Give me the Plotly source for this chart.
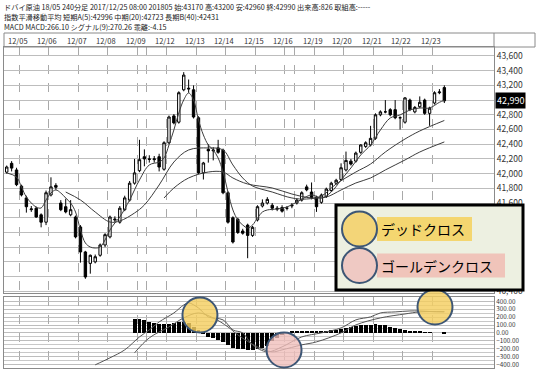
import plotly.graph_objects as go

# ---------------- data ----------------
header_lines = [
    "ドバイ原油 18/05 240分足 2017/12/25 08:00 201805 始:43170 高:43200 安:42960 終:42990 出来高:826 取組高:-----",
    "指数平滑移動平均 短期A(5):42996 中期(20):42723 長期B(40):42431",
    "MACD MACD:266.10 シグナル(9):270.26 乖離:-4.15",
]
date_labels = ["12/05", "12/06", "12/07", "12/08", "12/09", "12/12", "12/13", "12/14",
               "12/15", "12/16", "12/19", "12/20", "12/21", "12/22", "12/23"]
date_pos = [2.5 + 6 * k for k in range(len(date_labels))]
extra_lines = [28.5, 58.5]
price_ticks = list(range(40400, 43601, 200))
macd_ticks = [-400, -300, -200, -100, 0, 100, 200, 300, 400]

open_ = [42020, 42140, 42050, 41830, 41670, 41510, 41530, 41440, 41340, 41710,
         41840, 41600, 41550, 41440, 41410, 41275, 40935, 40780, 40800, 40890,
         41030, 41140, 41370, 41340, 41510, 41640, 41870, 42040, 42230, 42200,
         42190, 42230, 42060, 42420, 42785, 42700, 43140, 43150, 43140, 42760,
         42010, 42330, 42310, 42350, 42320, 41740, 41400, 41380, 41220, 41300,
         41160, 41370, 41560, 41600, 41570, 41530, 41540, 41530, 41560, 41600,
         41640, 41820, 41750, 41680, 41610, 41690, 41770, 41870, 41920, 42050,
         42170, 42170, 42290, 42370, 42390, 42480, 42800, 42840, 42870, 42870,
         42760, 42700, 43000, 42840, 42910, 43000, 42820, 42960, 43100, 43170]
high_ = [42110, 42170, 42080, 41850, 41700, 41560, 41550, 41460, 41770, 41950,
         41870, 41640, 41660, 41640, 41430, 41300, 40950, 40900, 40900, 41050,
         41190, 41430, 41420, 41560, 41700, 41900, 42200, 42460, 42330, 42250,
         42240, 42270, 42440, 42790, 42810, 43120, 43380, 43280, 43200, 42780,
         42160, 42400, 42360, 42460, 42340, 41760, 41420, 41400, 41250, 41320,
         41290, 41570, 41650, 41680, 41600, 41560, 41570, 41560, 41600, 41660,
         41760, 41850, 41880, 41700, 41730, 41810, 41890, 41930, 42140, 42300,
         42200, 42300, 42400, 42440, 42650, 42820, 42860, 43000, 42890, 43000,
         42780, 43040, 43020, 42920, 43050, 43020, 42910, 43120, 43150, 43200]
low_ = [42000, 42030, 41830, 41690, 41470, 41480, 41400, 41270, 41300, 41690,
        41780, 41490, 41460, 41420, 41120, 40790, 40570, 40640, 40780, 40870,
        41000, 41120, 41340, 41320, 41490, 41620, 41850, 42020, 42100, 42150,
        42150, 42030, 42040, 42400, 42670, 42680, 43120, 43100, 42750, 41990,
        41920, 42150, 42180, 42270, 41720, 41320, 41050, 41180, 41170, 40850,
        41140, 41350, 41540, 41580, 41500, 41490, 41470, 41500, 41530, 41580,
        41620, 41760, 41650, 41480, 41590, 41670, 41750, 41850, 41900, 42030,
        42110, 42150, 42270, 42350, 42370, 42460, 42780, 42820, 42780, 42740,
        42600, 42680, 42850, 42820, 42890, 42800, 42650, 42940, 43080, 42960]
close_ = [42090, 42075, 41850, 41710, 41550, 41520, 41410, 41340, 41740, 41820,
          41815, 41510, 41480, 41510, 41140, 40935, 40595, 40890, 40870, 41030,
          41170, 41410, 41380, 41530, 41670, 41870, 42010, 42190, 42200, 42195,
          42200, 42090, 42420, 42770, 42690, 43100, 43340, 43160, 42770, 42010,
          42145, 42310, 42320, 42290, 41740, 41340, 41070, 41200, 41190, 41160,
          41270, 41550, 41600, 41650, 41530, 41520, 41490, 41530, 41570, 41640,
          41740, 41780, 41670, 41550, 41710, 41790, 41870, 41910, 42080, 42180,
          42130, 42280, 42390, 42420, 42480, 42800, 42840, 42840, 42800, 42760,
          42760, 43030, 42870, 42900, 42970, 42820, 42890, 43100, 43110, 42990]
bar_idx = list(range(len(close_)))

ma_short_idx = [0, 2, 3, 4, 5, 6, 7, 8, 9, 10, 11, 12, 13, 14, 15, 16, 17, 18, 19, 20,
                21, 22, 23, 25, 27, 29, 31, 32, 33, 34, 35, 36, 37, 38, 39, 40, 41, 42,
                43, 44, 45, 46, 47, 48, 49, 50, 51, 52, 53, 55, 57, 59, 62, 64, 66, 68,
                70, 72, 74, 76, 78, 80, 82, 84, 86, 88, 89]
ma_short_val = [42010, 41954, 41818, 41682, 41601, 41546, 41533, 41642, 41737, 41778,
                41737, 41669, 41601, 41478, 41234, 41057, 41002, 40989, 41002, 41098,
                41234, 41329, 41410, 41642, 41914, 42118, 42158, 42213, 42390, 42594,
                42825, 43002, 43097, 43002, 42730, 42526, 42390, 42322, 42213, 42022,
                41750, 41506, 41370, 41302, 41261, 41302, 41397, 41478, 41506, 41519,
                41546, 41614, 41710, 41669, 41750, 41914, 42077, 42254, 42390, 42594,
                42757, 42798, 42866, 42893, 42893, 42970, 42996]
ma_mid_idx = [12, 15, 18, 21, 23, 26, 28, 31, 34, 37, 41, 44, 46, 48, 50, 54, 58, 61,
              64, 67, 71, 74, 77, 81, 84, 89]
ma_mid_val = [41750, 41642, 41478, 41342, 41356, 41465, 41574, 41846, 42158, 42322,
              42349, 42322, 42118, 41941, 41832, 41750, 41669, 41655, 41696, 41859,
              42022, 42131, 42294, 42471, 42580, 42723]
ma_long_idx = [32, 34, 37, 41, 44, 46, 49, 54, 58, 62, 65, 68, 71, 74, 77, 81, 84, 89]
ma_long_val = [41669, 41805, 41941, 42022, 42022, 41941, 41859, 41805, 41723, 41669,
               41682, 41778, 41873, 41941, 42050, 42186, 42294, 42431]

macd_idx = [18, 21, 24, 27, 29, 31, 34, 36, 37, 39, 41, 44, 46, 48, 50, 53, 56, 60,
            64, 68, 71, 74, 76, 79, 82, 84, 87, 89]
macd_val = [-405, -316, -215, -51, 38, 139, 253, 354, 380, 316, 203, 165, 38, 0,
            -152, -240, -177, -51, 0, 63, 165, 203, 253, 266, 278, 278, 268, 266.10]
signal_idx = [26, 29, 33, 36, 39, 42, 45, 47, 51, 54, 56, 60, 63, 68, 71, 76, 81, 84, 89]
signal_val = [-253, -63, 76, 190, 253, 190, 76, -25, -177, -240, -215, -152, -114, 0,
              101, 190, 240, 266, 270.26]
hist_idx = list(range(26, 90))
hist_val = [175, 175, 160, 143, 130, 114, 114, 114, 120, 143, 143, 130, 80, 40, -10,
            -47, -60, -89, -120, -152, -190, -200, -210, -215, -215, -200, -190, -165,
            -100, -60, -30, 10, 17, 20, 25, 28, 25, 20, 22, 30, 35, 40, 55, 65, 80, 90,
            100, 105, 105, 110, 100, 95, 80, 60, 50, 35, 30, 20, 15, 10, 5, 0, 0, -4.15]

legend_items = ["デッドクロス", "ゴールデンクロス"]
cross_marks = [(39.3, "dead"), (56.4, "golden"), (87.1, "dead")]

# ---------------- layout helpers ----------------
W, H = 539, 376
ML, MR, MT, MB = 4, 45, 47, 8
PW = W - ML - MR
PH = H - MT - MB


def fx(px):
    return (px - ML) / PW


def fy(py):
    return (H - MB - py) / PH


NARROW = "Liberation Sans Narrow, Noto Sans CJK JP, sans-serif"
CJK = "Noto Sans CJK JP, sans-serif"
YELLOW = "rgba(244,206,96,0.82)"
PINK = "rgba(240,190,186,0.78)"
RING = "#3d5675"

fig = go.Figure()

fig.add_trace(go.Candlestick(
    x=bar_idx, open=open_, high=high_, low=low_, close=close_,
    increasing=dict(line=dict(color="black", width=1), fillcolor="white"),
    decreasing=dict(line=dict(color="black", width=1), fillcolor="black"),
    whiskerwidth=0, showlegend=False, xaxis="x", yaxis="y"))

for ix, iv in [(ma_short_idx, ma_short_val), (ma_mid_idx, ma_mid_val), (ma_long_idx, ma_long_val)]:
    fig.add_trace(go.Scatter(x=ix, y=iv, mode="lines", line=dict(color="#3c3c3c", width=1, shape="spline"),
                             showlegend=False, xaxis="x", yaxis="y"))

fig.add_trace(go.Bar(x=hist_idx, y=hist_val, marker=dict(color="black", line=dict(width=0)), width=0.8,
                     showlegend=False, xaxis="x2", yaxis="y2"))
fig.add_trace(go.Scatter(x=macd_idx, y=macd_val, mode="lines", line=dict(color="#555", width=1, shape="spline"),
                         showlegend=False, xaxis="x2", yaxis="y2"))
fig.add_trace(go.Scatter(x=signal_idx, y=signal_val, mode="lines", line=dict(color="#555", width=1, shape="spline"),
                         showlegend=False, xaxis="x2", yaxis="y2"))

grid_x = sorted(date_pos + extra_lines)
xcommon = dict(range=[-0.55, 99.1], tickvals=grid_x, showticklabels=False, ticks="",
               showgrid=True, gridcolor="#a9a9a9", griddash="dash", gridwidth=1,
               zeroline=False, showline=True, mirror=True, linecolor="#8a8a8a", linewidth=1,
               fixedrange=True)

# the last-price marker hides the tick label next to it
last_close = close_[-1]
price_text = ["" if abs(v - last_close) < 100 else f"{v:,}" for v in price_ticks]

fig.update_layout(
    width=W, height=H, margin=dict(l=ML, r=MR, t=MT, b=MB),
    paper_bgcolor="white", plot_bgcolor="white", bargap=0,
    xaxis=dict(domain=[0, 1], anchor="y", rangeslider=dict(visible=False), **xcommon),
    xaxis2=dict(domain=[0, 1], anchor="y2", matches="x", **xcommon),
    yaxis=dict(domain=[fy(293), 1], anchor="x", range=[40377, 43722], side="right",
               tickvals=price_ticks, ticktext=price_text, ticks="", showgrid=True, gridcolor="#bdbdbd",
               zeroline=False, showline=True, mirror=True, linecolor="#8a8a8a",
               tickfont=dict(family=NARROW, size=8.5, color="#333")),
    yaxis2=dict(domain=[0, fy(297)], anchor="x2", range=[-445, 455], side="right",
                tickvals=macd_ticks, tickformat=".2f", ticks="", showgrid=True, gridcolor="#bdbdbd",
                minor=dict(tickvals=[-350, -250, -150, -50, 50, 150, 250, 350], showgrid=True,
                           gridcolor="#c8c8c8", ticks=""),
                zeroline=False, showline=True, mirror=True, linecolor="#8a8a8a",
                tickfont=dict(family=NARROW, size=6.3, color="#333")),
    showlegend=False,
)

shapes = []
annotations = []

# header lines
for k, line in enumerate(header_lines):
    annotations.append(dict(text=line, xref="paper", yref="paper", x=fx(2), y=fy(6.5 + 10.5 * k),
                            xanchor="left", yanchor="middle", showarrow=False,
                            font=dict(family=NARROW, size=7.2, color="#222")))

# date header row
shapes.append(dict(type="rect", xref="paper", yref="paper", x0=fx(4), x1=fx(535), y0=fy(47), y1=fy(33),
                   line=dict(color="#8a8a8a", width=1)))
shapes.append(dict(type="line", xref="paper", yref="paper", x0=1, x1=1, y0=fy(47), y1=fy(33),
                   line=dict(color="#8a8a8a", width=1)))
for lab, pos in zip(date_labels, date_pos):
    annotations.append(dict(text=lab, xref="x", yref="paper", x=pos - 0.3, y=fy(40), xanchor="center",
                            yanchor="middle", showarrow=False,
                            font=dict(family=NARROW, size=7.5, color="#333")))

# last price marker
annotations.append(dict(text=f"{last_close:,}", xref="paper", yref="y", x=1, y=last_close, xanchor="left",
                        yanchor="middle", xshift=1, showarrow=False, bgcolor="black", borderpad=1,
                        font=dict(family=NARROW, size=9, color="white")))

# cross marks on MACD panel
mark_y = {39.3: 315, 56.4: 350, 87.1: 307}
for xi, kind in cross_marks:
    shapes.append(dict(type="circle", xref="x", yref="paper", xsizemode="pixel", ysizemode="pixel",
                       xanchor=xi, yanchor=fy(mark_y[xi]), x0=-17.5, x1=17.5, y0=-17.5, y1=17.5,
                       fillcolor=YELLOW if kind == "dead" else PINK, line=dict(color=RING, width=2),
                       layer="above"))

# legend box
shapes.append(dict(type="rect", xref="paper", yref="paper", x0=fx(336), x1=fx(523), y0=fy(290), y1=fy(205),
                   fillcolor="rgb(237,240,225)", line=dict(color="black", width=3), layer="above"))
leg_rows = [(229, YELLOW, "rgb(244,214,112)", 472), (265.5, PINK, "rgb(240,196,186)", 505)]
for (cy, cfill, lfill, rx), txt in zip(leg_rows, legend_items):
    shapes.append(dict(type="rect", xref="paper", yref="paper", x0=fx(377), x1=fx(rx), y0=fy(cy + 12),
                       y1=fy(cy - 12), fillcolor=lfill, line=dict(width=0), layer="above"))
    shapes.append(dict(type="circle", xref="paper", yref="paper", xsizemode="pixel", ysizemode="pixel",
                       xanchor=fx(359.5), yanchor=fy(cy), x0=-17.5, x1=17.5, y0=-17.5, y1=17.5,
                       fillcolor=cfill, line=dict(color=RING, width=2), layer="above"))
    annotations.append(dict(text=txt, xref="paper", yref="paper", x=fx(379), y=fy(cy), xanchor="left",
                            yanchor="middle", showarrow=False,
                            font=dict(family=CJK, size=14, color="black")))

fig.update_layout(shapes=shapes, annotations=annotations)
fig.write_html("out.html")
